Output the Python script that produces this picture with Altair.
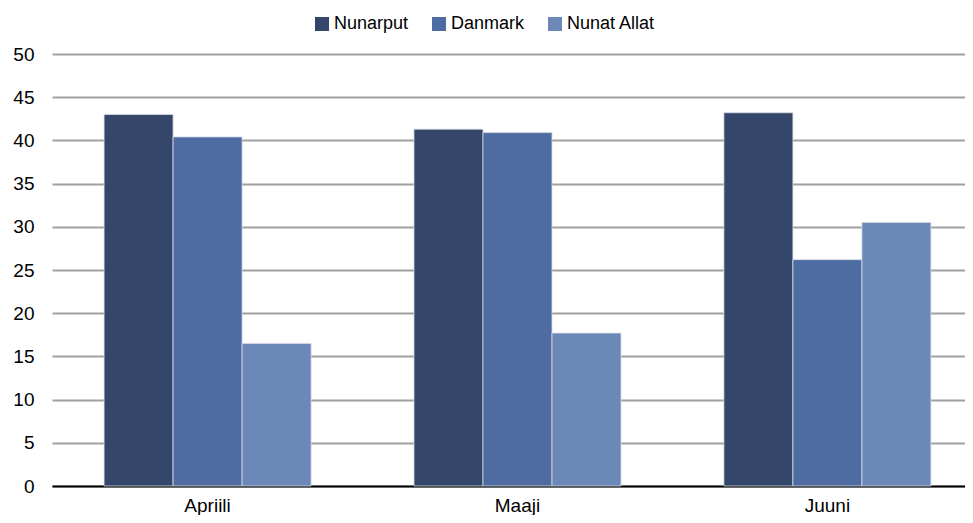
import altair as alt
import pandas as pd

months = ["Apriili", "Maaji", "Juuni"]
series = ["Nunarput", "Danmark", "Nunat Allat"]
nunarput = [43.0, 41.3, 43.2]
danmark = [40.4, 40.9, 26.2]
nunat_allat = [16.5, 17.7, 30.5]
colors = ["#34476a", "#4f6ca2", "#6b88b8"]
y_ticks = [0, 5, 10, 15, 20, 25, 30, 35, 40, 45, 50]

rows = []
for s, vals in zip(series, [nunarput, danmark, nunat_allat]):
    for m, v in zip(months, vals):
        rows.append({"month": m, "series": s, "value": v})
df = pd.DataFrame(rows)

FONT = "Liberation Sans"

chart = alt.Chart(df).mark_bar(stroke="#d5dbe6", strokeWidth=0.8).encode(
    x=alt.X("month:N", sort=months,
            scale=alt.Scale(paddingInner=0.332, paddingOuter=0.168, range=[0, 931]),
            axis=alt.Axis(title=None, labelAngle=0, ticks=False, domainColor="black",
                          domainWidth=2, labelFontSize=19, labelColor="black",
                          labelPadding=10, labelFont=FONT, labelBaseline="top")),
    xOffset=alt.XOffset("series:N", sort=series),
    y=alt.Y("value:Q", scale=alt.Scale(domain=[0, 50]),
            axis=alt.Axis(values=y_ticks, title=None, domain=False, ticks=False,
                          gridColor="#a0a0a0", gridWidth=2, labelFontSize=19,
                          labelColor="black", labelPadding=18, labelFont=FONT)),
    color=alt.Color("series:N", sort=series,
                    scale=alt.Scale(domain=series, range=colors),
                    legend=alt.Legend(title=None, orient="none", legendX=261, legendY=-39,
                                      direction="horizontal", symbolType="square",
                                      symbolSize=196, symbolStrokeWidth=0,
                                      labelFontSize=18, labelFont=FONT,
                                      labelColor="black", labelOffset=3,
                                      columnPadding=21)),
).properties(
    width=913, height=432,
    padding={"left": 44, "top": 46, "right": 0, "bottom": 29},
    autosize=alt.AutoSizeParams(type="none"),
).configure_view(stroke=None)

chart.save("out.html", embed_options={"renderer": "svg", "actions": False})
